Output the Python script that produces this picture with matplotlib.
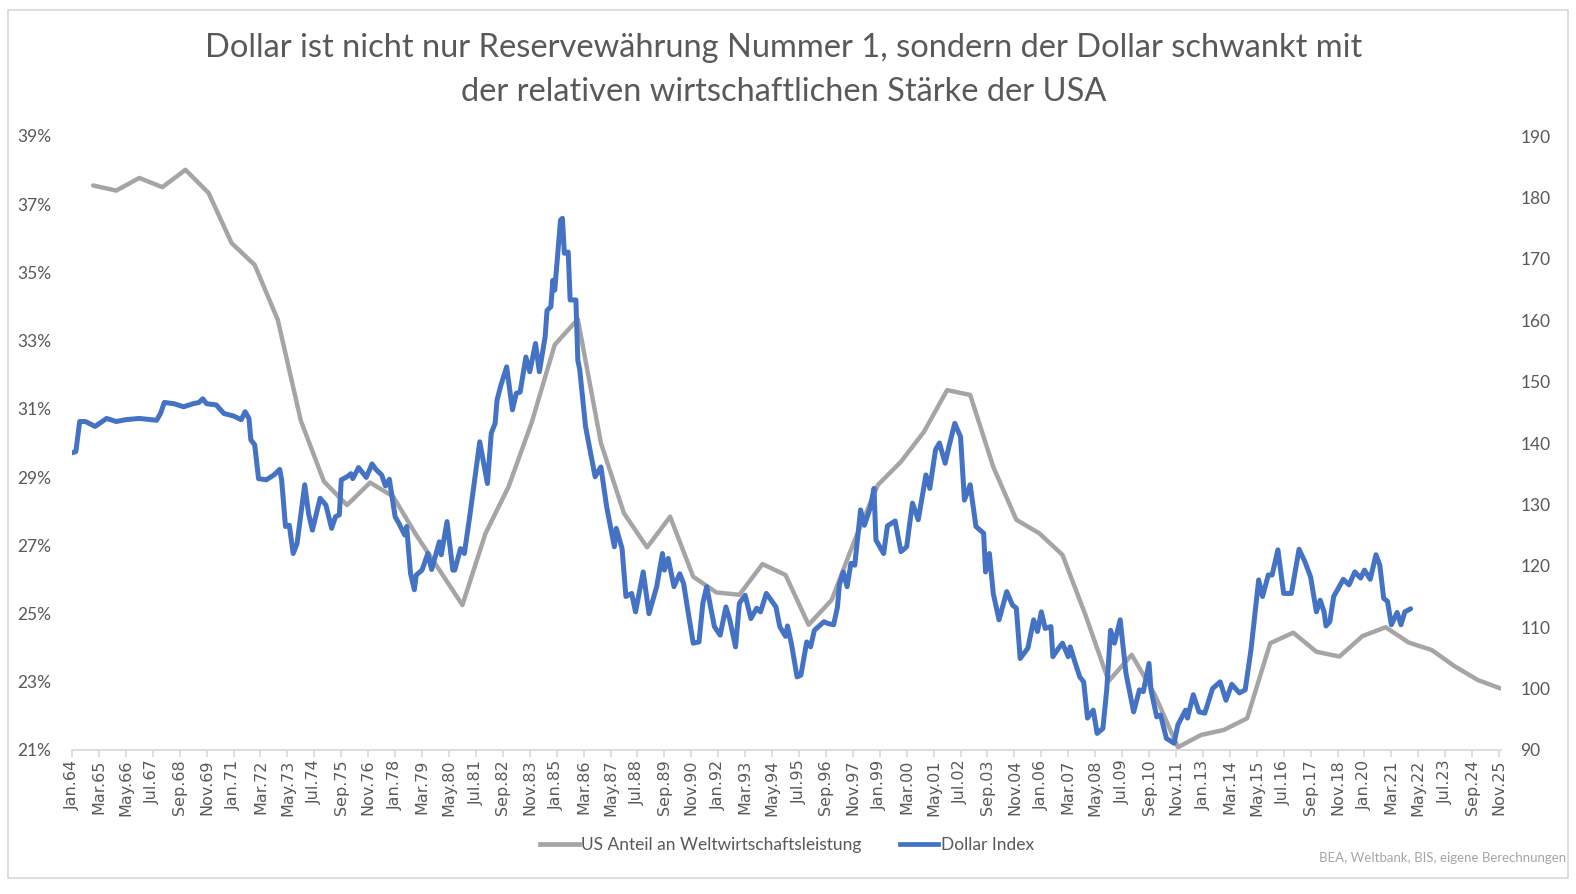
"""Dollar-Index vs. US-Anteil an der Weltwirtschaftsleistung (1964-2025)."""
import matplotlib
matplotlib.use("Agg")
import matplotlib.pyplot as plt
from matplotlib.lines import Line2D
from matplotlib.patches import Rectangle

W, H = 1576, 894

# ---- data -------------------------------------------------------------
# month axis: 0 = Jan.64, one tick label every 14 months up to Nov.25
MONTH_NAMES = ["Jan", "Feb", "Mar", "Apr", "May", "Jun",
               "Jul", "Aug", "Sep", "Oct", "Nov", "Dec"]
TICK_MONTHS = list(range(0, 743, 14))

# US share of world GDP (%), annual, plotted at December of each year
GDP_YEARS = list(range(1964, 2026))
GDP_SHARE = [37.55, 37.4, 37.77, 37.5, 38.01, 37.33, 35.86, 35.22, 33.61, 30.65,
             28.87, 28.18, 28.84, 28.43, 27.3, 26.28, 25.25, 27.35, 28.72, 30.6,
             32.88, 33.63, 30.0, 27.94, 26.94, 27.84, 26.08, 25.62, 25.55, 26.45,
             26.13, 24.67, 25.4, 27.16, 28.77, 29.45, 30.33, 31.55, 31.41, 29.3,
             27.75, 27.35, 26.72, 24.95, 23.02, 23.79, 22.62, 21.08, 21.44, 21.59,
             21.93, 24.13, 24.44, 23.88, 23.74, 24.34, 24.6, 24.15, 23.93, 23.45,
             23.05, 22.8]

# Dollar index (right axis), month offset from Jan.64 and value
DOLLAR_MONTH = [
    0, 2, 4, 7, 12, 18, 23, 28, 35, 44, 46, 48, 53, 58, 63, 66, 68, 70, 75, 79,
    84, 88, 90, 92, 93, 95, 97, 101, 105, 108, 109, 111, 113, 115, 117, 121, 123,
    125, 129, 132, 135, 137, 139, 140, 143, 145, 146, 149, 153, 156, 158, 161,
    163, 165, 168, 170, 173, 174, 176, 178, 179, 182, 185, 187, 191, 192, 195,
    198, 199, 202, 204, 207, 212, 216, 218, 220, 221, 223, 226, 229, 231, 233,
    236, 238, 241, 243, 246, 247, 249, 250, 251, 254, 255, 256, 258, 259, 262,
    263, 264, 267, 269, 272, 275, 278, 282, 283, 286, 288, 291, 293, 297, 300,
    304, 307, 308, 310, 313, 316, 318, 321, 323, 326, 328, 330, 334, 337, 340,
    342, 345, 347, 350, 353, 356, 358, 361, 364, 366, 368, 371, 372, 374, 377,
    379, 382, 384, 386, 391, 393, 396, 398, 399, 401, 403, 405, 407, 410, 412,
    415, 417, 418, 422, 424, 428, 431, 434, 435, 437, 440, 444, 446, 449, 451,
    454, 456, 459, 462, 464, 467, 470, 474, 475, 477, 479, 482, 486, 489, 491,
    493, 497, 500, 502, 504, 506, 509, 510, 513, 515, 518, 519, 522, 524, 526,
    528, 531, 533, 536, 538, 540, 542, 545, 548, 552, 555, 557, 560, 561, 564,
    566, 569, 573, 575, 579, 580, 583, 586, 589, 593, 597, 600, 603, 607, 610,
    613, 617, 619, 622, 624, 627, 630, 634, 638, 641, 644, 647, 649, 651, 652,
    654, 656, 658, 661, 664, 667, 670, 672, 675, 678, 680, 682, 684, 686, 689,
    691, 693, 696]
DOLLAR_INDEX = [
    138.4, 138.6, 143.5, 143.5, 142.7, 144.0, 143.5, 143.8, 144.0, 143.7, 144.8,
    146.6, 146.4, 145.9, 146.4, 146.6, 147.2, 146.4, 146.2, 144.8, 144.4, 143.8,
    145.1, 144.0, 140.5, 139.7, 134.2, 134.0, 134.8, 135.7, 134.0, 126.4, 126.6,
    122.0, 123.6, 133.2, 128.5, 125.8, 131.0, 129.9, 126.1, 128.0, 128.3, 134.0,
    134.5, 135.0, 134.2, 136.0, 134.4, 136.6, 135.7, 134.8, 133.0, 134.1, 128.0,
    126.9, 125.0, 126.4, 118.8, 116.1, 118.5, 119.3, 122.0, 119.4, 123.9, 121.8,
    127.2, 119.3, 119.3, 122.8, 122.0, 128.5, 140.2, 133.4, 141.6, 143.2, 147.0,
    149.4, 152.4, 145.4, 148.1, 148.3, 154.0, 151.6, 156.2, 151.6, 157.3, 161.6,
    162.2, 166.5, 164.9, 176.3, 176.6, 170.9, 171.1, 163.3, 163.3, 153.5, 151.9,
    142.7, 139.4, 134.5, 136.1, 129.6, 123.1, 126.1, 122.8, 115.0, 115.5, 112.5,
    119.0, 112.2, 116.6, 122.0, 119.3, 121.2, 116.6, 118.7, 117.1, 111.2, 107.4,
    107.6, 113.9, 116.6, 110.1, 108.7, 113.3, 111.2, 106.8, 113.9, 115.2, 111.4,
    113.1, 112.5, 115.5, 114.2, 113.3, 110.1, 108.5, 110.2, 107.4, 101.9, 102.2,
    107.6, 106.8, 109.5, 110.9, 110.6, 110.4, 113.3, 116.9, 119.0, 116.6, 120.4,
    120.1, 129.1, 126.6, 129.4, 132.6, 124.2, 122.0, 126.5, 127.3, 122.3, 123.1,
    125.6, 130.2, 127.5, 134.8, 132.6, 138.9, 140.0, 136.7, 139.5, 143.2, 141.0,
    130.7, 133.2, 126.4, 125.3, 119.0, 122.0, 115.5, 111.2, 115.8, 113.6, 113.1,
    104.9, 106.6, 111.2, 109.3, 112.5, 109.8, 110.1, 105.2, 106.6, 107.4, 105.2,
    106.8, 103.8, 101.9, 101.1, 95.2, 96.5, 92.7, 93.5, 99.8, 109.5, 107.4,
    111.2, 102.5, 96.2, 99.8, 99.5, 104.1, 99.8, 95.4, 95.7, 91.9, 91.1, 94.1,
    96.5, 95.2, 99.0, 96.2, 96.0, 100.0, 101.1, 98.1, 100.7, 99.3, 99.8, 106.3,
    117.7, 115.0, 118.5, 118.5, 122.6, 115.5, 115.5, 122.7, 120.7, 118.2, 112.5,
    114.4, 112.5, 110.2, 110.9, 115.0, 116.1, 117.8, 116.9, 119.0, 118.0, 119.3,
    117.8, 121.8, 120.1, 114.7, 114.2, 110.4, 112.4, 110.4, 112.5, 113.0]

TITLE_1 = "Dollar ist nicht nur Reservewährung Nummer 1, sondern der Dollar schwankt mit"
TITLE_2 = "der relativen wirtschaftlichen Stärke der USA"
LABEL_GDP = "US Anteil an Weltwirtschaftsleistung"
LABEL_DOLLAR = "Dollar Index"
SOURCE = "BEA, Weltbank, BIS, eigene Berechnungen"

GRAY = "#a5a5a5"
BLUE = "#4472c4"
TEXT = "#595959"

plt.rcParams["font.family"] = ["Lato", "DejaVu Sans"]


def month_label(m):
    year = 1964 + m // 12
    return f"{MONTH_NAMES[m % 12]}.{year % 100:02d}"


fig = plt.figure(figsize=(W / 100, H / 100), dpi=100)

# chart-area border
fig.patches.append(Rectangle((8 / W, 1 - 878 / H), 1560 / W, 868 / H,
                             transform=fig.transFigure, fill=False,
                             edgecolor="#d9d9d9", linewidth=1.2))

ax = fig.add_axes([72 / W, 1 - 750 / H, (1501 - 72) / W, (750 - 136) / H])
ax.set_xlim(0, 743)
ax.set_ylim(21, 39)
ax2 = ax.twinx()
ax2.set_ylim(90, 190)

gdp_x = [(y - 1964) * 12 + 11 for y in GDP_YEARS]
ax.plot(gdp_x, GDP_SHARE, color=GRAY, lw=3.2, solid_joinstyle="round",
        solid_capstyle="round")
ax2.plot(DOLLAR_MONTH, DOLLAR_INDEX, color=BLUE, lw=3.6,
         solid_joinstyle="round", solid_capstyle="round")

for a in (ax, ax2):
    for s in ("top", "left", "right"):
        a.spines[s].set_visible(False)
ax.spines["bottom"].set_color("#d9d9d9")
ax.spines["bottom"].set_linewidth(1.3)
ax2.spines["bottom"].set_visible(False)

ax.set_yticks(range(21, 40, 2))
ax.set_yticklabels([f"{v}%" for v in range(21, 40, 2)])
ax.tick_params(axis="y", length=0, pad=15, labelsize=12.5, labelcolor=TEXT)
ax2.set_yticks(range(90, 191, 10))
ax2.tick_params(axis="y", length=0, pad=14, labelsize=12.5, labelcolor=TEXT)

ax.set_xticks(TICK_MONTHS)
ax.set_xticklabels([month_label(m) for m in TICK_MONTHS], rotation=90,
                   family="DejaVu Sans")
ax.tick_params(axis="x", direction="out", length=5, width=1.2, color="#d9d9d9",
               pad=2, labelsize=11.5, labelcolor=TEXT)

fig.text(784 / W, 1 - 48 / H, TITLE_1, ha="center", va="center",
         fontsize=23.5, color=TEXT)
fig.text(784 / W, 1 - 92 / H, TITLE_2, ha="center", va="center",
         fontsize=23.5, color=TEXT)

handles = [Line2D([], [], color=GRAY, lw=3.4),
           Line2D([], [], color=BLUE, lw=3.4)]
fig.legend(handles, [LABEL_GDP, LABEL_DOLLAR], loc="center",
           bbox_to_anchor=(787 / W, 1 - 845 / H), ncol=2, frameon=False,
           fontsize=12.5, handlelength=2.2, handletextpad=0.15,
           columnspacing=2.2, labelcolor=TEXT)

fig.text(1566 / W, 1 - 858 / H, SOURCE, ha="right", va="center",
         fontsize=9.5, color="#a6a6a6")

fig.savefig("out.png", dpi=100)
